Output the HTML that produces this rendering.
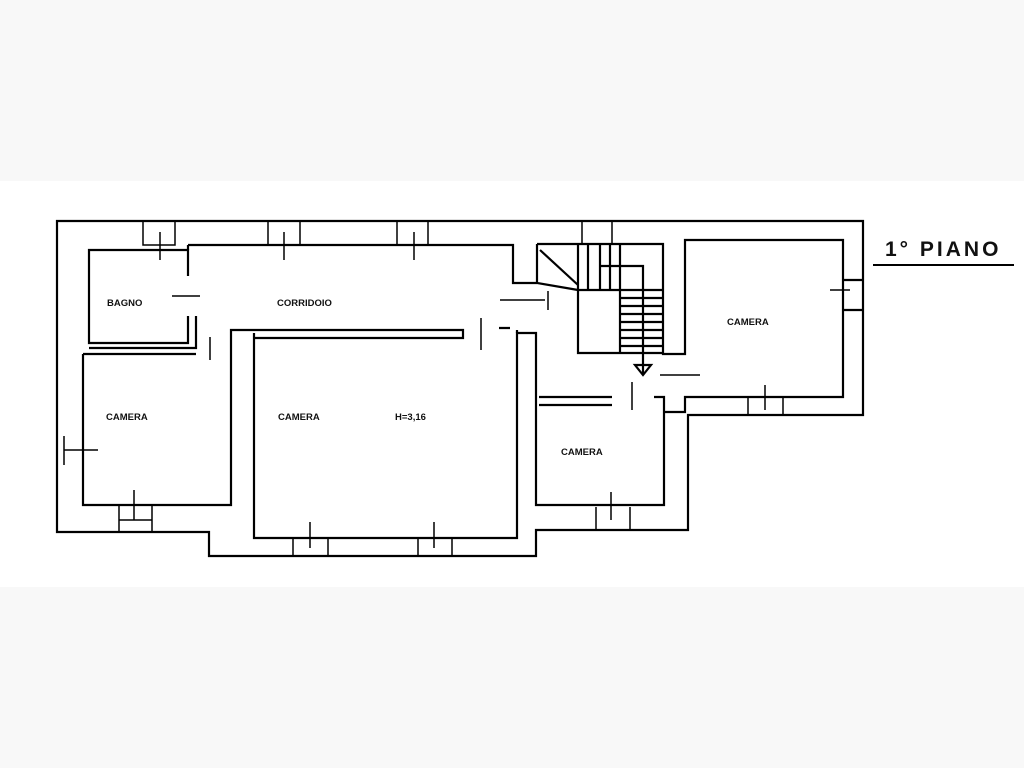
<!DOCTYPE html>
<html><head><style>
html,body{margin:0;padding:0;background:#f8f8f8;}
.wrap{position:relative;width:1024px;height:768px;background:#f8f8f8;}
svg{position:absolute;left:0;top:0;}
text{font-family:"Liberation Sans",sans-serif;font-weight:bold;fill:#111;}
</style></head><body><div class="wrap">
<svg width="1024" height="768" viewBox="0 0 1024 768">
<rect x="0" y="181" width="1024" height="406" fill="#fff"/>
<g fill="none" stroke="#000" stroke-width="2.2">
<path d="M57,221 H863 V415 H688 V530 H536 V556 H209 V532 H57 Z"/>
<path d="M188,245 H513 V283 H537"/>
<path d="M188,276 V250 H89 V343 H188 V316"/>
<path d="M188,245 V250 M196,316 V348 H89"/>
<path d="M83,354 H196 M83,354 V505 H231 V333"/>
<path d="M231,333 V330 H463 V338 H254"/>
<path d="M254,333 V538 H517 V333 H536 V505 H664 V397 H654 M539,397 H612"/>
<path d="M539,405 H612"/>
<path d="M517,330 V333 M499,328 H510"/>
<path d="M537,244 H663 V354 H685 V240 H843 V397 H685 V412 H664"/>
<path d="M537,244 V283 L578,290"/>
<path d="M578,244 V353 H663 M578,290 H663 M620,290 V353"/>
<path d="M588,244 V290 M600,244 V290 M610,244 V290 M620,244 V290 M600,266 H643 V375"/>
<path d="M620,298 H663 M620,306 H663 M620,314 H663 M620,322 H663 M620,330 H663 M620,338 H663 M620,346 H663"/>
<path d="M540,250 L578,285"/>
<path d="M635,365 H651 L643,375 Z"/>
<path d="M843,280 H863 M843,310 H863"/>
</g>
<g stroke="#000" stroke-width="1.5" fill="none">
<path d="M172,296 H200 M210,337 V360 M481,318 V350 M500,300 H545 M548,291 V310 M632,382 V410 M660,375 H700 M830,290 H850"/>
<path d="M143,221 V245 H175 V221 M160,232 V260 M268,221 V245 H300 V221 M284,232 V260 M397,221 V245 H428 V221 M414,232 V260 M582,221 V244 H612 V221 M119,505 V532 M152,505 V532 M134,490 V520 M119,520 H152 M293,538 V556 M328,538 V556 M310,522 V548 M418,538 V556 M452,538 V556 M434,522 V548 M596,507 V530 M630,507 V530 M611,492 V520 M748,397 V415 M783,397 V415 M765,385 V410 M57,436 V465 M64,436 V465 M64,450 H98"/>
</g>
<text x="107" y="306" font-size="9.5">BAGNO</text>
<text x="277" y="306" font-size="9.5">CORRIDOIO</text>
<text x="106" y="420" font-size="9.5">CAMERA</text>
<text x="278" y="420" font-size="9.5">CAMERA</text>
<text x="395" y="420" font-size="9.5">H=3,16</text>
<text x="561" y="455" font-size="9.5">CAMERA</text>
<text x="727" y="325" font-size="9.5">CAMERA</text>
<text x="885" y="256" font-size="21" style="letter-spacing:3px">1° PIANO</text>
<line x1="873" y1="265" x2="1014" y2="265" stroke="#000" stroke-width="2"/>
</svg></div></body></html>
